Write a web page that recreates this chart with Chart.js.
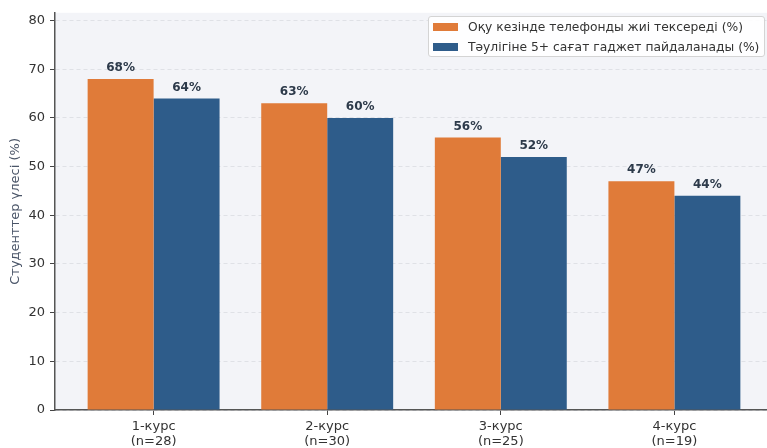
<!DOCTYPE html>
<html><head><meta charset="utf-8">
<script src="https://cdn.jsdelivr.net/npm/chart.js@4/dist/chart.umd.min.js"></script>
<style>
html,body{margin:0;padding:0;background:#fff;overflow:hidden;width:767px;height:448px;}
#wrap{position:relative;width:780px;height:448px;}
#legend{position:absolute;left:428px;top:16px;width:337px;height:41px;background:rgba(255,255,255,0.9);border:1px solid #d4d4d4;border-radius:3px;font-family:"DejaVu Sans",sans-serif;font-size:12.3px;color:#333;box-sizing:border-box;padding-top:0;}
.li{display:flex;align-items:center;height:20px;padding-left:4px;}
.sw{width:25px;height:8px;margin-right:10px;}
</style></head>
<body><div id="wrap"><canvas id="c" width="780" height="448"></canvas><div id="legend"></div></div>
<script>
const categories = ['1-курс', '2-курс', '3-курс', '4-курс'];
const sampleSizes = ['(n=28)', '(n=30)', '(n=25)', '(n=19)'];
const checkPhone = [68, 63, 56, 47];
const gadget5h = [64, 60, 52, 44];
const seriesLabels = ['Оқу кезінде телефонды жиі тексереді (%)', 'Тәулігіне 5+ сағат гаджет пайдаланады (%)'];
const seriesColors = ['#E07B39', '#2E5C8A'];
const yTicks = [0, 10, 20, 30, 40, 50, 60, 70, 80];

const font = 'DejaVu Sans';
const toXY = arr => arr.map((v, i) => ({x: i, y: v}));

const bgPlugin = {
  id: 'bg',
  beforeDraw(chart) {
    const {ctx, chartArea: a} = chart;
    ctx.save(); ctx.fillStyle = '#f3f4f8';
    ctx.fillRect(a.left, a.top, a.right - a.left, a.bottom - a.top);
    ctx.restore();
  }
};
const labelPlugin = {
  id: 'vals',
  afterDatasetsDraw(chart) {
    const ctx = chart.ctx;
    ctx.save();
    ctx.font = 'bold 12px "' + font + '"';
    ctx.fillStyle = '#2d3a4a';
    ctx.textAlign = 'center'; ctx.textBaseline = 'bottom';
    chart.data.datasets.forEach((ds, di) => {
      chart.getDatasetMeta(di).data.forEach((bar, i) => {
        ctx.fillText(ds.data[i].y + '%', bar.x, bar.y - 5);
      });
    });
    ctx.restore();
  }
};

new Chart(document.getElementById('c'), {
  type: 'bar',
  data: {
    datasets: [
      {label: seriesLabels[0], data: toXY(checkPhone), backgroundColor: seriesColors[0]},
      {label: seriesLabels[1], data: toXY(gadget5h), backgroundColor: seriesColors[1]}
    ]
  },
  options: {
    responsive: false, animation: false,
    devicePixelRatio: 1,
    layout: {padding: {top: 11, right: 7, left: 0, bottom: 0}},
    categoryPercentage: 0.76, barPercentage: 1.0,
    plugins: {legend: {display: false}, tooltip: {enabled: false}},
    scales: {
      x: {
        type: 'linear', min: -0.568, max: 3.568, offset: false,
        afterBuildTicks(s) { s.ticks = categories.map((_, i) => ({value: i})); },
        afterFit(s) { s.height = 38; },
        grid: {offset: false, drawOnChartArea: false, drawTicks: true, tickLength: 5, tickColor: '#444', tickWidth: 1},
        border: {color: '#555', width: 1.5},
        ticks: {
          padding: 4, color: '#333', font: {family: font, size: 13, lineHeight: 1.15}, maxRotation: 0, autoSkip: false,
          callback: v => [categories[v], sampleSizes[v]]
        }
      },
      y: {
        min: 0, max: 81.6,
        afterBuildTicks(s) { s.ticks = yTicks.map(v => ({value: v})); },
        afterFit(s) { s.width = 55; },
        grid: {color: '#dfe1e6', tickBorderDash: [], tickColor: '#444', tickLength: 5, tickWidth: 1, lineWidth: 1},
        border: {color: '#555', width: 1.5, dash: [4, 3]},
        ticks: {padding: 5, color: '#333', font: {family: font, size: 13}},
        title: {display: true, text: 'Студенттер үлесі (%)', color: '#4a5568', font: {family: font, size: 13}, padding: {top: 8, bottom: 2}}
      }
    }
  },
  plugins: [bgPlugin, labelPlugin]
});

const lg = document.getElementById('legend');
seriesLabels.forEach((t, i) => {
  const d = document.createElement('div'); d.className = 'li';
  const s = document.createElement('span'); s.className = 'sw'; s.style.background = seriesColors[i];
  const tx = document.createElement('span'); tx.textContent = t;
  d.appendChild(s); d.appendChild(tx); lg.appendChild(d);
});
</script></body></html>
